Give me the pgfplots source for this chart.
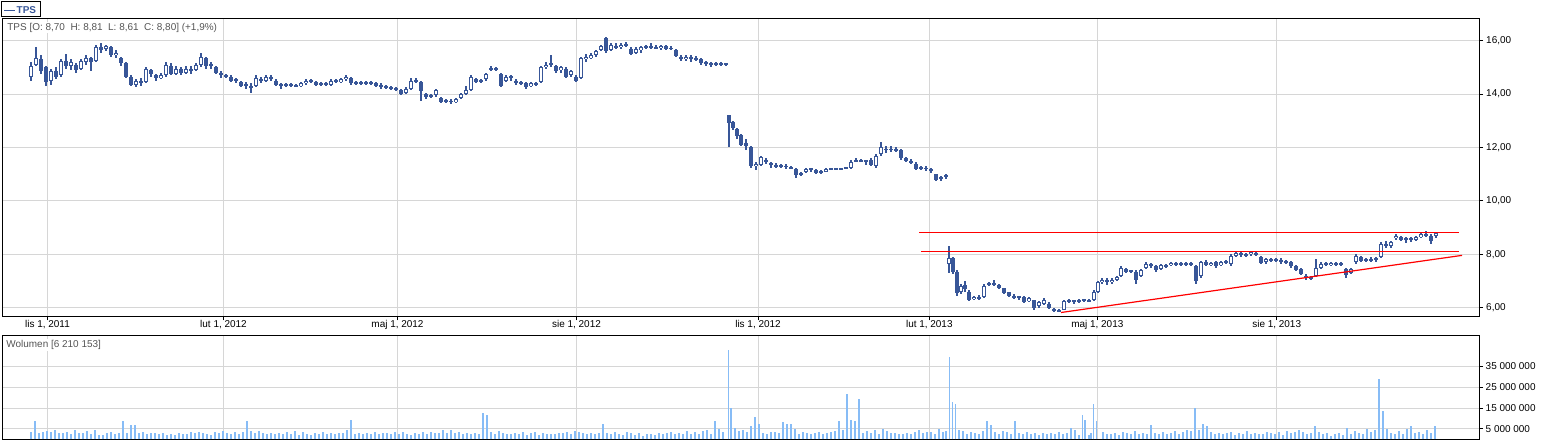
\documentclass[border=0pt]{standalone}
\usepackage{fontspec}
\setmainfont{Liberation Sans}
\usepackage{pgfplots}
\usepackage{pgfplotstable}
\pgfplotsset{compat=1.18}
\definecolor{tpsblue}{RGB}{56,86,152}
\definecolor{volblue}{RGB}{135,188,246}
\definecolor{gridgray}{RGB}{214,214,214}
\definecolor{txtgray}{RGB}{85,85,85}

\pgfplotstableread[row sep=\\]{
x o h l c \\
31 14.65 15.2 14.5 15.05 \\ 36 15.1 15.78 15.05 15.35 \\ 41 15.3 15.45 14.75 14.85 \\ 46 15.0 15.05 14.3 14.45 \\
51 14.5 14.95 14.34 14.85 \\ 56 14.85 15.0 14.55 14.65 \\ 61 14.7 15.3 14.65 15.25 \\ 66 15.25 15.5 14.95 15.05 \\
71 15.05 15.3 14.9 15.2 \\ 76 15.1 15.15 14.8 14.9 \\ 81 14.95 15.3 14.9 15.25 \\ 86 15.2 15.45 15.1 15.35 \\
91 15.35 15.4 14.87 15.2 \\ 96 15.25 15.85 15.2 15.75 \\ 101 15.75 15.9 15.55 15.65 \\ 106 15.7 15.85 15.6 15.8 \\
111 15.75 15.8 15.4 15.45 \\ 116 15.45 15.65 15.35 15.55 \\ 121 15.35 15.4 15.05 15.15 \\ 126 15.15 15.2 14.6 14.65 \\
131 14.65 14.7 14.3 14.35 \\ 136 14.35 14.55 14.25 14.5 \\ 141 14.5 14.6 14.3 14.4 \\ 146 14.45 15.0 14.4 14.95 \\
151 14.9 14.95 14.65 14.75 \\ 156 14.7 14.75 14.5 14.6 \\ 161 14.6 14.8 14.55 14.7 \\ 166 14.7 15.2 14.65 15.1 \\
171 15.05 15.15 14.7 14.75 \\ 176 14.75 15.05 14.7 14.95 \\ 181 14.95 15.0 14.7 14.8 \\ 186 14.8 15.05 14.75 14.95 \\
191 14.95 15.05 14.75 14.85 \\ 196 14.9 15.15 14.85 15.1 \\ 201 15.1 15.55 15.0 15.4 \\ 206 15.35 15.4 14.95 15.05 \\
211 15.05 15.2 14.95 15.1 \\ 216 15.0 15.05 14.75 14.8 \\ 221 14.8 14.85 14.6 14.7 \\ 226 14.7 14.75 14.6 14.65 \\
231 14.65 14.7 14.45 14.5 \\ 236 14.5 14.6 14.4 14.55 \\ 241 14.45 14.5 14.25 14.3 \\ 246 14.3 14.45 14.2 14.35 \\
251 14.3 14.4 14.05 14.25 \\ 256 14.3 14.7 14.25 14.6 \\ 261 14.55 14.65 14.4 14.5 \\ 266 14.5 14.7 14.45 14.65 \\
271 14.65 14.7 14.5 14.55 \\ 276 14.5 14.55 14.3 14.35 \\ 281 14.35 14.4 14.2 14.3 \\ 286 14.3 14.4 14.25 14.35 \\
291 14.35 14.4 14.25 14.3 \\ 296 14.3 14.38 14.25 14.32 \\ 301 14.3 14.45 14.25 14.4 \\ 306 14.4 14.55 14.35 14.5 \\
311 14.5 14.55 14.4 14.45 \\ 316 14.45 14.5 14.3 14.35 \\ 321 14.35 14.45 14.3 14.4 \\ 326 14.4 14.45 14.3 14.35 \\
331 14.35 14.55 14.3 14.5 \\ 336 14.5 14.55 14.4 14.45 \\ 341 14.45 14.6 14.4 14.55 \\ 346 14.55 14.7 14.5 14.65 \\
351 14.6 14.65 14.35 14.4 \\ 356 14.4 14.5 14.35 14.45 \\ 361 14.45 14.5 14.35 14.4 \\ 366 14.4 14.5 14.35 14.45 \\
371 14.45 14.5 14.35 14.4 \\ 376 14.4 14.45 14.28 14.32 \\ 381 14.35 14.4 14.2 14.28 \\ 386 14.28 14.35 14.2 14.25 \\
391 14.25 14.3 14.15 14.2 \\ 396 14.2 14.25 14.1 14.15 \\ 401 14.15 14.2 13.95 14.0 \\ 406 14.05 14.25 14.0 14.2 \\
411 14.2 14.6 14.15 14.5 \\ 416 14.5 14.6 14.4 14.45 \\ 421 14.45 14.5 13.75 14.1 \\ 426 14.0 14.05 13.8 13.88 \\
431 13.9 14.0 13.85 13.95 \\ 436 13.95 14.2 13.9 14.15 \\ 441 13.85 13.9 13.65 13.7 \\ 446 13.72 13.82 13.68 13.75 \\
451 13.75 13.8 13.62 13.7 \\ 456 13.72 13.85 13.68 13.8 \\ 461 13.85 14.05 13.8 14.0 \\ 466 14.0 14.3 13.95 14.15 \\
471 14.15 14.7 14.1 14.65 \\ 476 14.55 14.6 14.4 14.45 \\ 481 14.45 14.55 14.4 14.5 \\ 486 14.55 14.8 14.5 14.75 \\
491 14.9 15.05 14.85 14.95 \\ 496 14.95 15.0 14.85 14.9 \\ 501 14.75 14.8 14.25 14.3 \\ 506 14.5 14.7 14.45 14.65 \\
511 14.65 14.7 14.5 14.6 \\ 516 14.5 14.55 14.35 14.4 \\ 521 14.4 14.5 14.35 14.45 \\ 526 14.4 14.45 14.2 14.25 \\
531 14.3 14.45 14.25 14.4 \\ 536 14.4 14.45 14.3 14.35 \\ 541 14.45 15.05 14.4 15.0 \\ 546 15.0 15.2 14.95 15.1 \\
551 15.1 15.45 15.0 15.15 \\ 556 15.05 15.1 14.8 14.85 \\ 561 14.9 15.05 14.8 15.0 \\ 566 14.95 15.0 14.6 14.65 \\
571 14.7 14.9 14.65 14.85 \\ 576 14.65 14.7 14.45 14.5 \\ 581 14.6 15.4 14.55 15.35 \\ 586 15.3 15.5 15.2 15.4 \\
591 15.35 15.55 15.3 15.45 \\ 596 15.45 15.65 15.4 15.6 \\ 601 15.65 15.85 15.6 15.8 \\ 606 16.1 16.15 15.55 15.6 \\
611 15.65 15.9 15.6 15.85 \\ 616 15.8 15.9 15.7 15.75 \\ 621 15.75 15.92 15.7 15.85 \\ 626 15.85 15.95 15.75 15.8 \\
631 15.7 15.75 15.45 15.5 \\ 636 15.55 15.75 15.5 15.7 \\ 641 15.65 15.8 15.55 15.75 \\ 646 15.75 15.85 15.7 15.8 \\
651 15.8 15.9 15.7 15.75 \\ 656 15.75 15.82 15.68 15.72 \\ 661 15.72 15.85 15.65 15.8 \\ 666 15.8 15.85 15.65 15.7 \\
671 15.7 15.8 15.65 15.72 \\ 676 15.65 15.7 15.38 15.42 \\ 681 15.4 15.45 15.25 15.3 \\ 686 15.3 15.45 15.25 15.38 \\
691 15.4 15.45 15.22 15.3 \\ 696 15.3 15.42 15.25 15.35 \\ 701 15.3 15.35 15.1 15.15 \\ 706 15.15 15.25 15.05 15.18 \\
711 15.18 15.22 15.02 15.1 \\ 716 15.1 15.2 15.05 15.15 \\ 721 15.15 15.2 15.05 15.12 \\ 726 15.1 15.18 15.05 15.13 \\
729 13.2 13.22 12.0 12.9 \\ 733 12.95 12.98 12.65 12.72 \\ 737 12.7 12.72 12.3 12.42 \\ 741 12.45 12.5 12.05 12.1 \\
746 12.15 12.3 11.9 12.05 \\ 751 12.0 12.05 11.25 11.3 \\ 756 11.3 11.45 11.15 11.38 \\ 761 11.35 11.7 11.3 11.65 \\
766 11.52 11.6 11.4 11.45 \\ 771 11.4 11.45 11.25 11.35 \\ 776 11.3 11.42 11.25 11.35 \\ 781 11.35 11.4 11.25 11.3 \\
786 11.3 11.38 11.2 11.28 \\ 791 11.28 11.32 11.18 11.22 \\ 796 11.2 11.22 10.85 10.98 \\ 801 11.0 11.1 10.95 11.05 \\
806 11.1 11.22 11.05 11.18 \\ 811 11.18 11.25 11.1 11.2 \\ 816 11.15 11.2 11.0 11.05 \\ 821 11.05 11.15 11.0 11.1 \\
826 11.1 11.22 11.08 11.2 \\ 831 11.19 11.22 11.17 11.21 \\ 836 11.19 11.23 11.17 11.21 \\ 841 11.19 11.23 11.17 11.21 \\
846 11.21 11.26 11.18 11.24 \\ 851 11.22 11.55 11.2 11.45 \\ 856 11.5 11.6 11.45 11.52 \\ 861 11.52 11.56 11.45 11.5 \\
866 11.5 11.55 11.35 11.48 \\ 871 11.55 11.6 11.3 11.35 \\ 876 11.3 11.75 11.25 11.7 \\ 881 11.75 12.2 11.7 12.0 \\
886 11.95 12.05 11.8 11.9 \\ 891 11.9 12.05 11.85 11.95 \\ 896 11.95 12.0 11.82 11.88 \\ 901 11.9 11.95 11.55 11.6 \\
906 11.6 11.65 11.45 11.5 \\ 911 11.5 11.58 11.38 11.42 \\ 916 11.4 11.45 11.15 11.2 \\ 921 11.2 11.3 11.15 11.25 \\
926 11.25 11.3 11.12 11.18 \\ 931 11.2 11.22 11.05 11.15 \\ 936 11.0 11.02 10.75 10.8 \\ 941 10.85 10.95 10.75 10.9 \\
946 10.9 11.0 10.82 10.95 \\
949 7.65 8.31 7.3 7.85 \\ 953 7.85 7.9 7.25 7.35 \\ 957 7.35 7.4 6.45 6.55 \\ 961 6.6 6.9 6.5 6.8 \\
965 6.85 7.0 6.6 6.7 \\ 969 6.6 6.65 6.25 6.3 \\ 974 6.32 6.45 6.28 6.4 \\ 979 6.4 6.48 6.28 6.35 \\
984 6.4 6.88 6.35 6.82 \\ 989 6.85 6.95 6.8 6.9 \\ 994 6.9 7.05 6.8 6.85 \\ 999 6.85 6.9 6.7 6.75 \\
1004 6.72 6.75 6.5 6.55 \\ 1009 6.58 6.6 6.4 6.45 \\ 1014 6.45 6.5 6.32 6.38 \\ 1019 6.38 6.45 6.3 6.4 \\
1024 6.4 6.42 6.18 6.22 \\ 1029 6.25 6.4 6.2 6.35 \\ 1034 6.28 6.3 5.92 5.98 \\ 1039 6.05 6.25 6.0 6.2 \\
1044 6.15 6.35 6.1 6.3 \\ 1049 6.15 6.2 5.95 5.98 \\ 1054 5.95 6.0 5.85 5.9 \\ 1059 5.9 5.95 5.84 5.88 \\
1064 5.92 6.3 5.9 6.25 \\ 1069 6.22 6.33 6.18 6.28 \\ 1074 6.25 6.3 6.15 6.22 \\ 1079 6.22 6.32 6.18 6.28 \\
1084 6.25 6.33 6.2 6.3 \\ 1089 6.28 6.32 6.2 6.25 \\ 1094 6.3 6.65 6.25 6.6 \\ 1098 6.6 7.0 6.55 6.95 \\
1102 6.95 7.1 6.9 7.05 \\ 1107 7.05 7.1 6.85 6.95 \\ 1112 6.95 7.1 6.9 7.05 \\ 1117 7.05 7.2 7.0 7.15 \\
1121 7.2 7.55 7.15 7.5 \\ 1126 7.45 7.5 7.3 7.35 \\ 1131 7.35 7.42 7.3 7.38 \\ 1136 7.35 7.4 6.9 7.05 \\
1141 7.2 7.45 7.15 7.4 \\ 1146 7.5 7.7 7.45 7.65 \\ 1151 7.62 7.68 7.5 7.55 \\ 1156 7.55 7.6 7.35 7.4 \\
1161 7.45 7.65 7.4 7.6 \\ 1166 7.6 7.65 7.5 7.55 \\ 1171 7.6 7.72 7.55 7.68 \\ 1176 7.66 7.72 7.58 7.62 \\
1181 7.62 7.7 7.58 7.66 \\ 1186 7.66 7.72 7.55 7.6 \\ 1191 7.62 7.7 7.58 7.65 \\ 1196 7.55 7.6 6.9 7.0 \\
1201 7.2 7.75 7.1 7.7 \\ 1206 7.7 7.8 7.55 7.6 \\ 1211 7.6 7.72 7.55 7.68 \\ 1216 7.7 7.75 7.5 7.55 \\
1221 7.6 7.75 7.55 7.7 \\ 1226 7.72 7.78 7.62 7.68 \\ 1231 7.62 8.0 7.58 7.95 \\ 1236 7.95 8.1 7.9 8.05 \\
1241 8.05 8.1 7.9 7.98 \\ 1246 7.95 8.05 7.9 8.0 \\ 1251 8.0 8.12 7.95 8.08 \\ 1256 8.05 8.1 7.92 7.98 \\
1261 7.9 7.95 7.62 7.68 \\ 1266 7.72 7.88 7.65 7.82 \\ 1271 7.8 7.86 7.7 7.75 \\ 1276 7.75 7.88 7.7 7.82 \\
1281 7.8 7.85 7.65 7.7 \\ 1286 7.7 7.78 7.65 7.72 \\ 1291 7.7 7.75 7.5 7.55 \\ 1296 7.55 7.6 7.38 7.42 \\
1301 7.45 7.5 7.22 7.28 \\ 1306 7.2 7.25 7.05 7.1 \\ 1311 7.1 7.2 7.05 7.15 \\ 1316 7.2 7.84 7.15 7.5 \\
1321 7.5 7.7 7.45 7.65 \\ 1326 7.65 7.72 7.55 7.6 \\ 1331 7.6 7.72 7.55 7.68 \\ 1336 7.66 7.72 7.58 7.62 \\
1341 7.62 7.72 7.55 7.65 \\ 1346 7.45 7.5 7.1 7.22 \\ 1351 7.3 7.5 7.25 7.45 \\ 1356 7.7 8.0 7.65 7.95 \\
1361 7.9 7.95 7.7 7.75 \\ 1366 7.75 7.88 7.7 7.82 \\ 1371 7.82 7.88 7.72 7.78 \\ 1376 7.78 7.9 7.72 7.85 \\
1381 7.9 8.45 7.85 8.4 \\ 1386 8.4 8.5 8.25 8.3 \\ 1391 8.3 8.5 8.25 8.45 \\ 1396 8.6 8.75 8.55 8.7 \\
1401 8.65 8.7 8.5 8.55 \\ 1406 8.55 8.65 8.42 8.6 \\ 1411 8.6 8.65 8.45 8.55 \\ 1416 8.55 8.7 8.5 8.65 \\
1421 8.65 8.8 8.6 8.75 \\ 1426 8.75 8.86 8.65 8.7 \\ 1431 8.7 8.75 8.4 8.5 \\ 1436 8.70 8.81 8.61 8.80 \\
}\candles

\begin{document}
\begin{tikzpicture}[x=1bp,y=1bp]
\useasboundingbox (0,0) rectangle (1542,443);
\begin{axis}[
  at={(2bp,126.7bp)}, anchor=south west,
  scale only axis, width=1477bp, height=297.3bp,
  xmin=2, xmax=1479, ymin=5.678, ymax=16.813,
  axis line style={black, line width=1bp},
  grid=major, major grid style={gridgray, line width=1bp},
  xtick={47.5,223.5,397.5,576.5,758,929.3,1097.3,1276.7},
  xticklabels={{lis 1, 2011},{lut 1, 2012},{maj 1, 2012},{sie 1, 2012},{lis 1, 2012},{lut 1, 2013},{maj 1, 2013},{sie 1, 2013}},
  ytick={6,8,10,12,14,16},
  yticklabels={{6,00},{8,00},{10,00},{12,00},{14,00},{16,00}},
  ytick pos=right, xtick pos=bottom, yticklabel pos=right,
  tick align=outside, major tick length=4bp,
  tick style={black, line width=1bp},
  tick label style={font=\fontsize{10}{12}\selectfont, text=black},
  yticklabel style={anchor=west, inner sep=0pt, xshift=3bp},
  xticklabel style={anchor=north, inner sep=0pt},
]
\addplot[draw=none, mark=none, forget plot,
  error bars/.cd, y dir=both, y explicit, error mark=none,
  error bar style={draw=tpsblue, line width=1.3bp, solid}]
  table[x=x, y expr={(\thisrow{h}+\thisrow{l})/2}, y error expr={(\thisrow{h}-\thisrow{l})/2}] {\candles};
\addplot[draw=none, mark=none, forget plot,
  error bars/.cd, y dir=both, y explicit, error mark=none,
  error bar style={draw=tpsblue, line width=4.3bp, solid}]
  table[x=x, y expr={(\thisrow{o}+\thisrow{c})/2}, y error expr={max(abs(\thisrow{o}-\thisrow{c})/2,0.035)}] {\candles};
\addplot[draw=none, mark=none, forget plot,
  error bars/.cd, y dir=both, y explicit, error mark=none,
  error bar style={draw=white, line width=2.0bp, solid}]
  table[x=x, y expr={(\thisrow{o}+\thisrow{c})/2}, y error expr={max((\thisrow{c}-\thisrow{o})/2-0.0375,0)}] {\candles};
\addplot[red, line width=1bp, mark=none] coordinates {(919,8.82) (1459,8.82)};
\addplot[red, line width=1bp, mark=none] coordinates {(921,8.10) (1459,8.10)};
\addplot[red, line width=1.2bp, mark=none] coordinates {(1061,5.82) (1462,7.96)};
\end{axis}

\begin{axis}[
  at={(2bp,3.5bp)}, anchor=south west,
  scale only axis, width=1477bp, height=103.5bp,
  xmin=2, xmax=1479, ymin=0, ymax=49.3,
  axis line style={black, line width=1bp},
  grid=major, major grid style={gridgray, line width=1bp},
  xtick={47.5,223.5,397.5,576.5,758,929.3,1097.3,1276.7},
  xticklabels={}, xmajorticks=false,
  ytick={5,15,25,35},
  yticklabels={{5 000 000},{15 000 000},{25 000 000},{35 000 000}},
  ytick pos=right, yticklabel pos=right,
  tick align=outside, major tick length=4bp,
  tick style={black, line width=1bp},
  tick label style={font=\fontsize{10}{12}\selectfont, text=black},
  yticklabel style={anchor=west, inner sep=0pt, xshift=2.5bp},
]
\addplot[ycomb, draw=volblue, line width=1.3bp, mark=none] coordinates {
(31,3.6)(35,9.0)(39,3.2)(43,3.4)(47,4.2)(51,3.8)(55,4.3)(59,2.9)(63,3.1)(67,3.5)
(71,2.6)(75,4.4)(79,3.2)(83,3.0)(87,3.9)(91,2.5)(95,4.6)(99,2.2)(103,2.0)(107,3.1)
(111,3.4)(115,2.8)(119,2.9)(123,8.6)(127,3.0)(131,7.1)(135,7.1)(139,3.2)(143,3.5)(147,2.4)
(151,3.1)(155,2.9)(159,2.6)(163,3.3)(167,2.1)(171,2.8)(175,2.2)(179,3.0)(183,2.4)(187,2.7)
(191,3.6)(195,2.9)(199,3.8)(203,3.1)(207,2.5)(211,2.2)(215,3.7)(219,2.9)(223,4.1)(227,3.2)
(231,2.7)(235,3.5)(239,2.8)(243,3.6)(247,8.6)(251,3.9)(255,3.0)(259,4.2)(263,3.3)(267,2.8)
(271,3.2)(275,2.4)(279,3.1)(283,2.6)(287,3.4)(291,2.7)(295,4.0)(299,2.3)(303,3.5)(307,2.8)
(311,2.2)(315,3.0)(319,2.7)(323,3.6)(327,2.5)(331,3.2)(335,2.6)(339,3.3)(343,2.9)(347,4.3)
(351,9.5)(355,2.7)(359,3.1)(363,2.6)(367,3.3)(371,2.8)(375,3.4)(379,2.5)(383,3.0)(387,2.9)
(391,2.4)(395,3.5)(399,2.6)(403,3.8)(407,2.8)(411,2.2)(415,3.2)(419,2.5)(423,3.6)(427,2.7)
(431,3.4)(435,2.9)(439,3.1)(443,4.5)(447,3.2)(451,4.4)(455,3.0)(459,3.6)(463,2.7)(467,3.1)
(471,2.6)(475,3.3)(479,2.8)(483,12.4)(487,11.9)(491,3.5)(495,2.4)(499,3.9)(503,3.2)(507,2.8)
(511,2.5)(515,3.1)(519,2.7)(523,3.6)(527,2.3)(531,2.9)(535,3.4)(539,2.2)(543,3.0)(547,2.6)
(551,2.8)(555,2.4)(559,3.2)(563,2.9)(567,3.5)(571,2.6)(575,4.1)(579,3.7)(583,3.0)(587,2.7)
(591,3.3)(595,2.5)(599,3.0)(603,7.6)(607,3.1)(611,2.8)(615,3.4)(619,2.6)(623,2.2)(627,3.6)
(631,2.9)(635,2.3)(639,3.1)(643,1.9)(647,2.4)(651,2.8)(655,2.1)(659,3.3)(663,2.5)(667,3.0)
(671,3.7)(675,2.6)(679,3.2)(683,2.4)(687,4.2)(691,2.7)(695,3.5)(699,2.5)(703,3.9)(707,4.6)
(711,2.8)(715,9.0)(719,4.8)(723,3.6)(728.5,42.4)(731,14.8)(735,5.5)(739,3.9)(743,4.6)(747,3.4)
(751,6.2)(755,10.5)(759,7.6)(763,3.2)(767,2.6)(771,3.8)(775,3.5)(779,3.0)(783,8.1)(787,7.3)
(791,7.3)(795,4.9)(799,2.5)(803,3.4)(807,3.3)(811,2.4)(815,2.9)(819,3.8)(823,2.7)(827,3.1)
(831,3.6)(835,4.1)(839,8.6)(843,4.4)(847,21.9)(851,9.5)(855,8.6)(859,19.5)(863,3.0)(867,4.0)
(871,3.1)(875,4.5)(879,2.6)(883,5.0)(887,4.2)(891,2.9)(895,3.3)(899,2.4)(903,2.6)(907,3.2)
(911,2.8)(915,3.5)(919,4.3)(923,2.9)(927,3.4)(931,3.8)(935,2.6)(939,5.0)(943,3.6)(946,4.1)
(949.5,39.5)(952.5,18.0)(955.5,17.0)(959,4.5)(963,3.9)(967,2.8)(971,3.4)(975,3.0)(979,2.6)(983,4.2)(987,9.0)
(991,6.7)(995,3.5)(999,2.7)(1003,4.0)(1007,3.4)(1011,2.8)(1015,8.6)(1019,3.1)(1023,2.4)(1027,3.6)
(1031,2.5)(1035,2.9)(1039,2.2)(1043,3.3)(1047,2.6)(1051,3.0)(1055,2.4)(1059,3.8)(1063,2.7)(1067,3.2)
(1071,5.7)(1075,4.3)(1079,2.0)(1082.5,11.9)(1085,9.5)(1089,2.2)(1091,3.0)(1093.5,16.7)(1096.5,8.6)(1103,3.4)(1107,2.8)
(1111,2.5)(1115,3.2)(1119,2.3)(1123,3.6)(1127,2.9)(1131,2.6)(1135,3.9)(1139,2.7)(1143,3.1)(1147,2.4)
(1151,6.7)(1155,3.3)(1159,2.8)(1163,3.5)(1167,2.6)(1171,3.0)(1175,4.2)(1179,2.7)(1183,3.6)(1187,4.4)
(1191,3.9)(1195,15.2)(1199,4.6)(1203,7.6)(1207,6.2)(1211,3.5)(1215,2.6)(1219,3.2)(1223,2.4)(1227,2.9)
(1231,3.5)(1235,2.2)(1239,3.1)(1243,2.6)(1247,4.0)(1251,2.4)(1255,3.3)(1259,2.8)(1263,2.5)(1267,3.7)
(1271,3.0)(1275,2.7)(1279,3.4)(1283,2.3)(1287,4.1)(1291,3.2)(1295,3.8)(1299,4.6)(1303,3.4)(1307,2.6)
(1311,3.1)(1315,6.2)(1319,3.5)(1323,2.4)(1327,2.9)(1331,1.9)(1335,2.6)(1339,3.3)(1343,2.2)(1347,5.7)
(1351,2.8)(1355,4.1)(1359,3.0)(1363,2.6)(1367,4.9)(1371,3.5)(1375,4.3)(1379,28.6)(1383,13.8)(1387,5.0)
(1391,3.3)(1395,2.4)(1399,4.2)(1403,2.7)(1407,5.0)(1411,6.2)(1415,2.9)(1419,3.6)(1423,2.5)(1427,4.4)
(1431,3.1)(1435,6.2)
};
\end{axis}

% legend and info labels
\draw[black, line width=1bp] (1.5,441.5) rectangle (40.5,426);
\draw[tpsblue, line width=1.2bp] (4,432.7) -- (15.3,432.7);
\node[anchor=west, inner sep=0pt, text=tpsblue, font=\fontsize{10}{12}\selectfont\bfseries] at (16.5,432.9) {TPS};
\node[anchor=west, fill=white, inner sep=1.2bp, text=txtgray, font=\fontsize{10}{12}\selectfont] at (6,415.5) {TPS [O: 8,70\ \ H: 8,81\ \ L: 8,61\ \ C: 8,80] (+1,9\%)};
\node[anchor=west, fill=white, inner sep=1.2bp, text=txtgray, font=\fontsize{10}{12}\selectfont] at (5,98) {Wolumen [6 210 153]};
\end{tikzpicture}
\end{document}
